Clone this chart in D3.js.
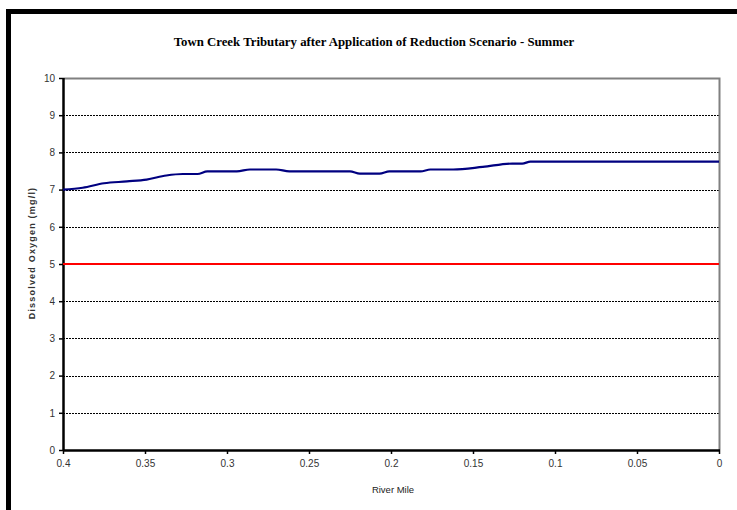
<!DOCTYPE html>
<html><head><meta charset="utf-8">
<script src="https://cdn.jsdelivr.net/npm/d3@7/dist/d3.min.js"></script>
<style>body{margin:0;background:#fff}svg{display:block}</style>
</head><body>
<script>
const riverMile = [0.400,0.388,0.375,0.361,0.349,0.337,0.327,0.318,0.312,0.294,0.286,0.270,0.262,0.225,0.219,0.207,0.201,0.182,0.176,0.162,0.144,0.126,0.120,0.115,0.000];
const dissolvedOxygen = [7.00,7.05,7.17,7.22,7.27,7.38,7.42,7.42,7.49,7.49,7.54,7.54,7.49,7.49,7.43,7.43,7.49,7.49,7.54,7.54,7.61,7.70,7.70,7.75,7.75];
const standardValue = [5, 5];
const standardMile = [0.4, 0];
const xTicks = [0.4,0.35,0.3,0.25,0.2,0.15,0.1,0.05,0];
const yTicks = [0,1,2,3,4,5,6,7,8,9,10];
const titleText = "Town Creek Tributary after Application of Reduction Scenario - Summer";
const xLabel = "River Mile";
const yLabel = "Dissolved Oxygen (mg/l)";

const W = 737, H = 510;
const m = {left:63, right:719, top:78, bottom:450};
const svg = d3.select("body").append("svg").attr("width",W).attr("height",H);
svg.append("rect").attr("width",W).attr("height",H).attr("fill","#fff");
// outer frame (partially cut)
svg.append("path").attr("d",`M8.5,${H+10} L8.5,11.5 L${W+10},11.5`).attr("fill","none").attr("stroke","#000").attr("stroke-width",5);

const x = d3.scaleLinear().domain([0.4,0]).range([m.left,m.right]);
const y = d3.scaleLinear().domain([0,10]).range([m.bottom,m.top]);

// gridlines
svg.append("g").selectAll("line").data(yTicks.filter(d=>d>0&&d<10)).join("line")
  .attr("x1",m.left).attr("x2",m.right).attr("y1",d=>Math.round(y(d))+0.5).attr("y2",d=>Math.round(y(d))+0.5)
  .attr("stroke","#000").attr("stroke-width",1).attr("stroke-dasharray","2,1");
// top and right border gray
svg.append("path").attr("d",`M${m.left},${m.top+0.5} L${m.right+0.5},${m.top+0.5} L${m.right+0.5},${m.bottom}`)
  .attr("fill","none").attr("stroke","#808080").attr("stroke-width",2);

// axes
const yAxis = d3.axisLeft(y).tickValues(yTicks).tickSize(4).tickPadding(4).tickFormat(d3.format("d"));
const gy = svg.append("g").attr("transform",`translate(${m.left},0)`).call(yAxis);
const xAxis = d3.axisBottom(x).tickValues(xTicks).tickSize(4).tickPadding(6).tickFormat(d=>String(d));
const gx = svg.append("g").attr("transform",`translate(0,${m.bottom})`).call(xAxis);
[gx,gy].forEach(g=>{
  g.select(".domain").attr("stroke","#000").attr("stroke-width",2.5);
  g.selectAll(".tick line").attr("stroke","#000").attr("stroke-width",1.5);
  g.selectAll("text").attr("font-family","Liberation Sans, Arial, sans-serif").attr("font-size",10).attr("fill","#333");
});
gx.select(".domain").attr("d",`M${m.left},0.5H${m.right+1}`);
gy.select(".domain").attr("d",`M0.5,${m.top}V${m.bottom+1}`);

// standard line
svg.append("path").datum(standardMile.map((d,i)=>[d,standardValue[i]]))
  .attr("d",d3.line().x(d=>x(d[0])).y(d=>y(d[1])))
  .attr("stroke","#ff0000").attr("stroke-width",2).attr("fill","none");

// DO line
svg.append("path").datum(riverMile.map((d,i)=>[d,dissolvedOxygen[i]]))
  .attr("d",d3.line().x(d=>x(d[0])).y(d=>y(d[1])).curve(d3.curveMonotoneX))
  .attr("stroke","#000080").attr("stroke-width",2.2).attr("fill","none");

// title
svg.append("text").attr("x",374).attr("y",46).attr("text-anchor","middle")
  .attr("font-family","Liberation Serif, Times New Roman, serif").attr("font-weight","bold").attr("font-size",12.8)
  .attr("fill","#000").text(titleText);
svg.append("text").attr("x",393).attr("y",493).attr("text-anchor","middle")
  .attr("font-family","Liberation Sans, Arial, sans-serif").attr("font-size",9.5).attr("fill","#222").text(xLabel);
svg.append("text").attr("transform","translate(35,253) rotate(-90)").attr("text-anchor","middle")
  .attr("font-family","Liberation Sans, Arial, sans-serif").attr("font-size",9).attr("font-weight","bold").attr("letter-spacing",1.2)
  .attr("fill","#333").text(yLabel);
</script>
</body></html>
